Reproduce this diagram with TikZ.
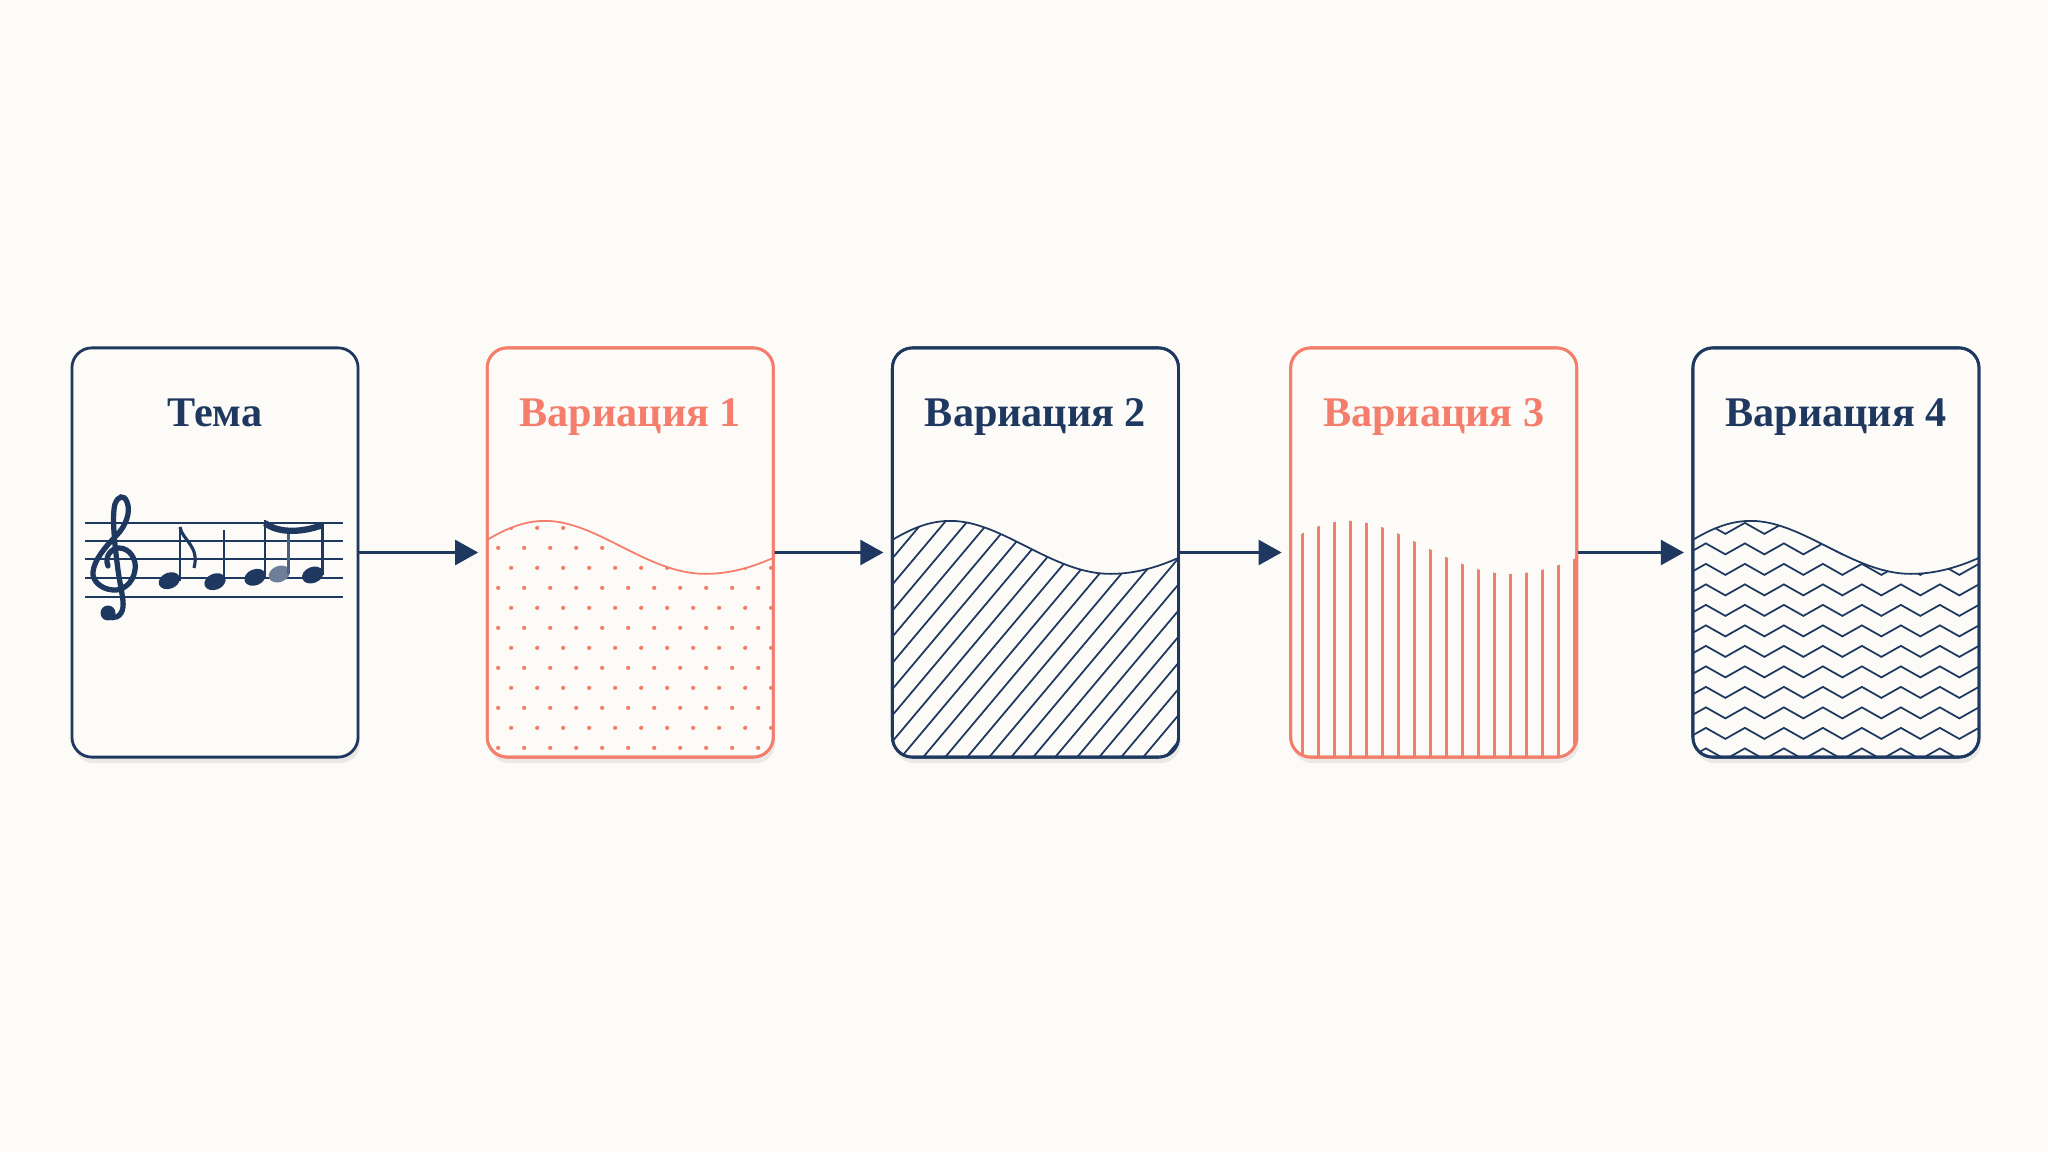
\documentclass[tikz,border=0pt]{standalone}
\usepackage{fontspec}
\setmainfont{Liberation Serif}
\usepackage{tikz}
\usetikzlibrary{positioning,arrows.meta,shadows}

\definecolor{navy}{HTML}{1E3860}
\definecolor{coral}{HTML}{F47D6C}
\definecolor{paper}{HTML}{FCFBF7}

\tikzset{
  card/.style={draw=#1, line width=0.8pt, rounded corners=0.2cm, fill=paper,
    minimum width=2.86cm, minimum height=4.09cm, inner sep=0pt, outer sep=0pt,
    drop shadow={shadow xshift=0.02cm, shadow yshift=-0.06cm, opacity=0.07, fill=black}},
  title/.style={text=#1, font=\fontsize{12}{15}\selectfont\bfseries, anchor=base},
  link/.style={draw=navy, line width=0.7pt, -{Triangle[length=2.3mm,width=2.5mm]}, shorten >=0.09cm},
  fillline/.style={draw=#1, line width=0.5pt},
}

\newcommand{\wavecurve}{(0,192) .. controls (20,180) and (38,173) .. (58,173) .. controls (110,173) and (160,226) .. (218,226) .. controls (245,226) and (268,218) .. (286,210)}

\begin{document}
\begin{tikzpicture}[x=0.01cm,y=-0.01cm]
              \fill[paper] (0,0) rectangle (2048,1152);
              \useasboundingbox (0,0) rectangle (2048,1152);

              \node[card=navy] (theme) at (215,552.5) {};
              \node[card=coral, right=1.29cm of theme] (var1) {};
              \node[card=navy, right=1.19cm of var1] (var2) {};
              \node[card=coral, right=1.12cm of var2] (var3) {};
              \node[card=navy, right=1.16cm of var3] (var4) {};

              \node[title=navy] (themetitle) at ([yshift=-0.79cm]theme.north) {Тема};
              \node[title=coral] (var1title) at ([yshift=-0.79cm]var1.north) {Вариация 1};
              \node[title=navy] (var2title) at ([yshift=-0.79cm]var2.north) {Вариация 2};
              \node[title=coral] (var3title) at ([yshift=-0.79cm]var3.north) {Вариация 3};
              \node[title=navy] (var4title) at ([yshift=-0.79cm]var4.north) {Вариация 4};

              %theme>var1>var2>var3>var4
              \draw[link] (theme) -- (var1);
              \draw[link] (var1) -- (var2);
              \draw[link] (var2) -- (var3);
              \draw[link] (var3) -- (var4);

              %staff
              \foreach \y in {522.7,541,559.3,577.7,596.7}
                \draw[navy, line width=0.5pt] (85,\y) -- (343,\y);
              %clef
              \draw[navy, line width=1.5pt, line cap=round]
                (108,566) .. controls (104,556) and (112,548) .. (119,548)
                .. controls (130,548) and (137,560) .. (135,570)
                .. controls (133,584) and (122,591) .. (113,590)
                .. controls (100,589) and (92,580) .. (93,572)
                .. controls (94,560) and (106,546) .. (116,536)
                .. controls (126,526) and (131,512) .. (127,502)
                .. controls (124,494) and (118,496) .. (115,504)
                .. controls (112,515) and (114,540) .. (118,570)
                .. controls (120,585) and (124,600) .. (123,607)
                .. controls (122,617) and (113,620) .. (108,616);
              \fill[navy] (108,613) circle (7.5);
              %notes
              \foreach \hx/\hy/\sx/\sy in {169.3/580.7/180/527, 215/581.7/224/530, 255/577.3/265/520, 312.7/575/322.7/521.7} {
                \fill[navy, rotate around={22:(\hx,\hy)}] (\hx,\hy) ellipse [x radius=11, y radius=8];
                \draw[navy, line width=0.7pt] (\sx,\hy) -- (\sx,\sy);
              }
              \fill[navy!65, rotate around={22:(279.3,574)}] (279.3,574) ellipse [x radius=11, y radius=8];
              \draw[navy!80, line width=0.7pt] (288.3,574) -- (288.3,533);
              \draw[navy, line width=0.9pt] (180,527) .. controls (182,540) and (200,546) .. (194,568);
              \draw[navy, line width=1.8pt] (265,523) .. controls (276,532) and (298,534) .. (322.7,525);

              %var1: dots
              \begin{scope}[shift={(var1.north west)}]
                \clip[rounded corners=0.2cm] (0,0) rectangle (286,409);
                \clip \wavecurve -- (286,409) -- (0,409) -- cycle;
                \foreach \r in {-2,...,10}
                  \foreach \c in {0,...,11}
                    \fill[coral] ({11+\c*26+mod(\r+20,2)*13},{200+\r*20}) circle (2.1);
              \end{scope}
              \draw[fillline=coral, shift={(var1.north west)}] \wavecurve;

              %var2: hatch
              \begin{scope}[shift={(var2.north west)}]
                \clip[rounded corners=0.2cm] (0,0) rectangle (286,409);
                \clip \wavecurve -- (286,409) -- (0,409) -- cycle;
                \foreach \k in {-16,...,13}
                  \draw[fillline=navy] ({9+22*\k},409) -- ++(344,-409);
              \end{scope}
              \draw[fillline=navy, shift={(var2.north west)}] \wavecurve;

              %var3: vertical lines
              \begin{scope}[shift={(var3.north west)}]
                \clip[rounded corners=0.2cm] (0,0) rectangle (286,409);
                \clip \wavecurve -- (286,409) -- (0,409) -- cycle;
                \foreach \x in {12,28,...,284}
                  \draw[fillline=coral, line width=0.65pt] (\x,150) -- (\x,409);
              \end{scope}

              %var4: zigzag
              \begin{scope}[shift={(var4.north west)}]
                \clip[rounded corners=0.2cm] (0,0) rectangle (286,409);
                \clip \wavecurve -- (286,409) -- (0,409) -- cycle;
                \foreach \r in {0,...,11}
                  \draw[fillline=navy, line join=miter] (-6.5,{186+\r*20.5})
                    \foreach \j in {0,...,8} { -- ++(19.5,-11) -- ++(19.5,11) };
              \end{scope}
              \draw[fillline=navy, shift={(var4.north west)}] \wavecurve;

              %borders again on top
              \foreach \n/\c in {var1/coral,var2/navy,var3/coral,var4/navy}
                \draw[\c, line width=0.8pt, rounded corners=0.2cm] (\n.north west) rectangle (\n.south east);
            \end{tikzpicture}
\end{document}
